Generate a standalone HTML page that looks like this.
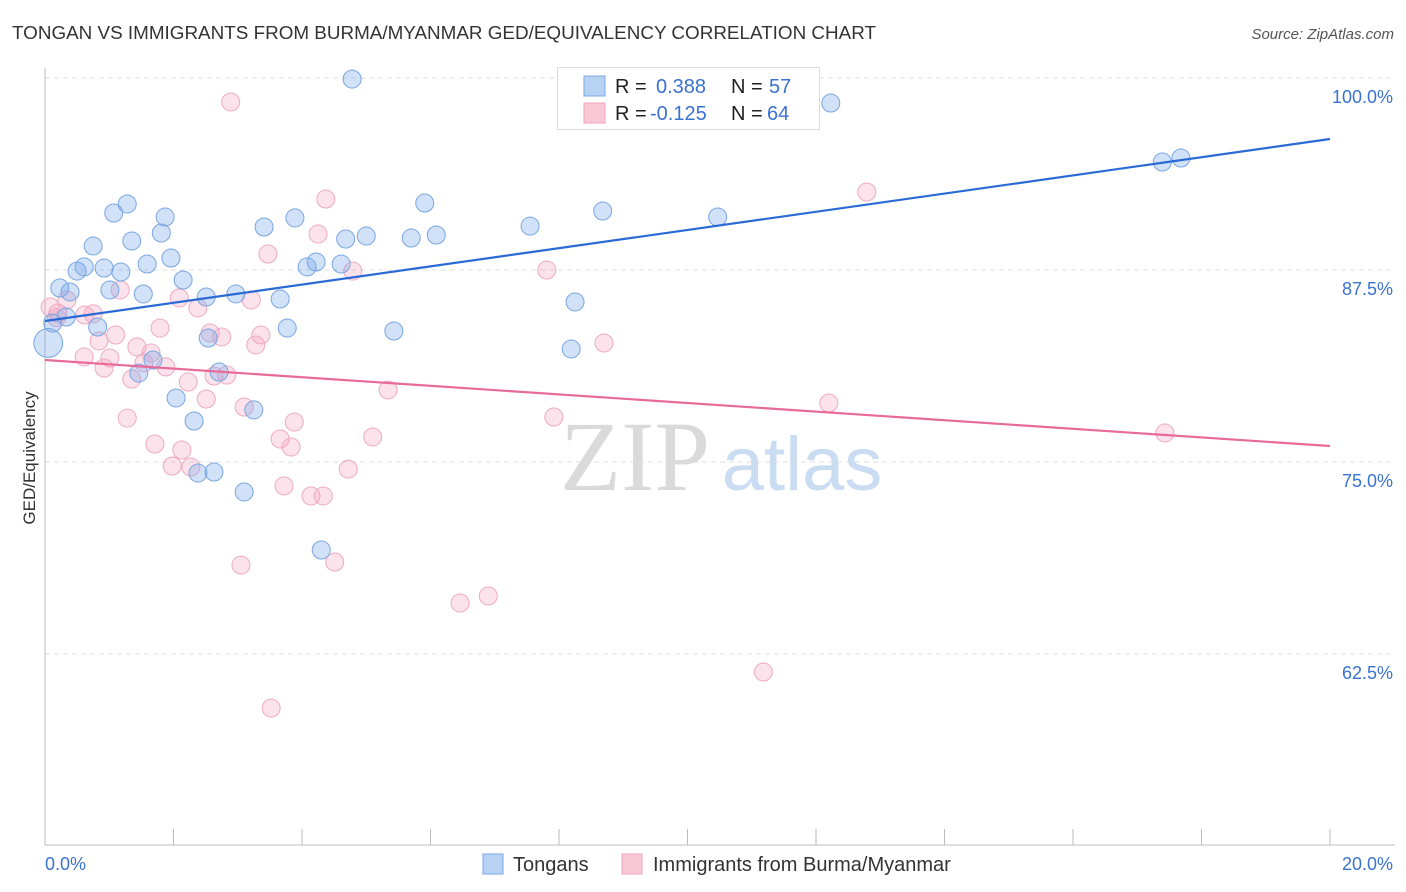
<!DOCTYPE html>
<html><head><meta charset="utf-8"><style>
body{margin:0;background:#fff;font-family:"Liberation Sans",sans-serif;}
#wrap{position:relative;width:1406px;height:892px;overflow:hidden;}
</style></head><body>
<div id="wrap">
<svg id="svg" width="1406" height="892" xmlns="http://www.w3.org/2000/svg">
<text x="12" y="39" font-size="18" fill="#333" textLength="864" lengthAdjust="spacingAndGlyphs">TONGAN VS IMMIGRANTS FROM BURMA/MYANMAR GED/EQUIVALENCY CORRELATION CHART</text>
<text x="1394" y="39" font-size="15" fill="#555" font-style="italic" text-anchor="end">Source: ZipAtlas.com</text>
<text x="35" y="458" font-size="17" fill="#333" text-anchor="middle" transform="rotate(-90 35 458)">GED/Equivalency</text>
<g>
<text x="635" y="490" font-size="100" fill="#dadada" font-family="Liberation Serif,serif" text-anchor="middle">ZIP</text>
<text x="802" y="490" font-size="76" fill="#cadcf2" text-anchor="middle">atlas</text>
</g>
<g id="grid"></g><g id="axes"></g><g id="lines"></g><g id="pts"></g>
<g>
<rect x="557.5" y="67.5" width="262" height="62" fill="#fff" stroke="#ddd"/>
<rect x="584" y="76" width="21" height="20" fill="#b8d2f4" stroke="#7aa8e6"/>
<rect x="584" y="103" width="21" height="20" fill="#f9c8d6" stroke="#eea4bb"/>
<text x="615" y="93" font-size="20" fill="#222">R = </text><text x="656" y="93" font-size="20" fill="#3a72d0">0.388</text>
<text x="731" y="93" font-size="20" fill="#222">N = </text><text x="769" y="93" font-size="20" fill="#3a72d0">57</text>
<text x="615" y="120" font-size="20" fill="#222">R = </text><text x="650" y="120" font-size="20" fill="#3a72d0">-0.125</text>
<text x="731" y="120" font-size="20" fill="#222">N = </text><text x="767" y="120" font-size="20" fill="#3a72d0">64</text>
</g>
<g>
<rect x="483" y="854" width="20" height="20" fill="#b8d2f4" stroke="#7aa8e6"/>
<text x="513" y="871" font-size="20" fill="#333">Tongans</text>
<rect x="622" y="854" width="20" height="20" fill="#f9c8d6" stroke="#eea4bb"/>
<text x="653" y="871" font-size="20" fill="#333">Immigrants from Burma/Myanmar</text>
</g>
</svg></div>
<script>
const blueX=[4.78,12.23,17.39,17.68,1.28,1.07,1.87,3.89,8.68,10.47,5.91,3.41,7.55,1.81,1.35,0.75,4.68,5.0,5.7,6.09,1.96,1.59,4.22,4.08,4.61,0.5,0.61,0.92,1.18,2.15,0.23,0.39,1.01,1.53,2.51,2.97,3.66,8.25,0.33,0.12,0.82,3.77,5.43,2.54,8.19,0.05,1.68,1.46,2.71,2.04,3.25,2.32,2.38,2.63,3.1,4.3];
const blueY=[99.93,98.37,94.53,94.79,91.8,91.21,90.95,90.89,91.34,90.95,91.86,90.3,90.36,89.91,89.39,89.06,89.52,89.71,89.58,89.78,88.28,87.89,88.02,87.7,87.89,87.43,87.7,87.63,87.37,86.85,86.33,86.07,86.2,85.94,85.74,85.94,85.61,85.42,84.44,84.05,83.79,83.72,83.53,83.07,82.36,82.75,81.64,80.79,80.86,79.17,78.39,77.67,74.28,74.35,73.05,69.27];
const blueSize=[1,1,1,1,1,1,1,1,1,1,1,1,1,1,1,1,1,1,1,1,1,1,1,1,1,1,1,1,1,1,1,1,1,1,1,1,1,1,1,1,1,1,1,1,1,1.6,1,1,1,1,1,1,1,1,1,1];
const pinkX=[2.89,12.79,4.37,4.25,3.47,4.79,7.81,1.17,2.09,3.21,0.34,0.08,2.38,0.75,0.2,0.62,1.79,1.1,2.57,2.75,3.36,3.28,8.7,0.84,1.43,0.61,1.01,1.65,1.88,0.92,1.54,2.83,2.63,2.23,1.35,5.34,2.51,3.1,12.2,7.92,1.28,3.88,3.66,5.1,17.43,1.71,2.13,3.83,1.98,2.27,4.72,3.72,4.14,4.33,3.05,4.51,6.46,6.9,11.18,3.52,0.18];
const pinkY=[98.44,92.58,92.12,89.84,88.54,87.43,87.5,86.2,85.68,85.55,85.55,85.09,85.03,84.64,84.7,84.57,83.72,83.27,83.4,83.14,83.27,82.62,82.75,82.88,82.49,81.84,81.77,82.1,81.19,81.12,81.45,80.66,80.6,80.21,80.4,79.69,79.1,78.58,78.84,77.93,77.86,77.6,76.5,76.63,76.89,76.17,75.78,75.98,74.74,74.67,74.54,73.44,72.79,72.79,68.29,68.49,65.82,66.28,61.33,58.98,84.4];
const blueTrend=[84.18,96.03];
const pinkTrend=[81.64,76.04];
const yTicks=[100,87.5,75,62.5];
const yTickLabels=["100.0%","87.5%","75.0%","62.5%"];
const xTickCount=10;
const xs=v=>45+v*64.25;
const ys=v=>78+(100-v)*15.36;
const NS="http://www.w3.org/2000/svg";
function mk(tag,attrs,parent){const e=document.createElementNS(NS,tag);for(const k in attrs)e.setAttribute(k,attrs[k]);parent.appendChild(e);return e;}
const grid=document.getElementById('grid'),axes=document.getElementById('axes'),lines=document.getElementById('lines'),pts=document.getElementById('pts');
yTicks.forEach((t,i)=>{
 const l=mk('line',{x1:45,x2:1395,y1:ys(t),y2:ys(t),stroke:'#dcdcdc','stroke-dasharray':'5,4'},grid);
 
 
 const tx=mk('text',{x:1393,y:ys(t)+25,'font-size':18,fill:'#3a72d0','text-anchor':'end'},axes);
 tx.textContent=yTickLabels[i];
 
 
});
const ax=mk('line',{x1:45,x2:45,y1:68,y2:845,stroke:'#bbb'},axes);


const bx=mk('line',{x1:45,x2:1395,y1:845,y2:845,stroke:'#bbb'},axes);


for(let i=0;i<=xTickCount;i++){
 const x=xs(i*2);
 const t=mk('line',{x1:x,x2:x,y1:829,y2:845,stroke:'#bbb'},axes);
 
 
}
const xl0=mk('text',{x:45,y:870,'font-size':18,fill:'#3a72d0'},axes);xl0.textContent='0.0%';


const xl1=mk('text',{x:1393,y:870,'font-size':18,fill:'#3a72d0','text-anchor':'end'},axes);xl1.textContent='20.0%';


function dots(X,Y,fill,stroke,name,sz){
 X.forEach((x,i)=>{
  const r=9*(sz?sz[i]||1:1);
  const c=mk('circle',{cx:xs(x),cy:ys(Y[i]),r:r,fill:fill,stroke:stroke,'stroke-width':1},pts);
  
  
 });
}
dots(pinkX,pinkY,'rgba(244,160,188,0.3)','#eeaac0','burma-point');
dots(blueX,blueY,'rgba(120,170,235,0.35)','#7aa6e2','tongan-point',blueSize);
const bl=mk('line',{x1:xs(0),y1:ys(blueTrend[0]),x2:xs(20),y2:ys(blueTrend[1]),stroke:'#2a6ad4','stroke-width':2.2},lines);


const pl=mk('line',{x1:xs(0),y1:ys(pinkTrend[0]),x2:xs(20),y2:ys(pinkTrend[1]),stroke:'#e86a98','stroke-width':2.2},lines);


pts.parentNode.appendChild(lines);
</script>
</body></html>
